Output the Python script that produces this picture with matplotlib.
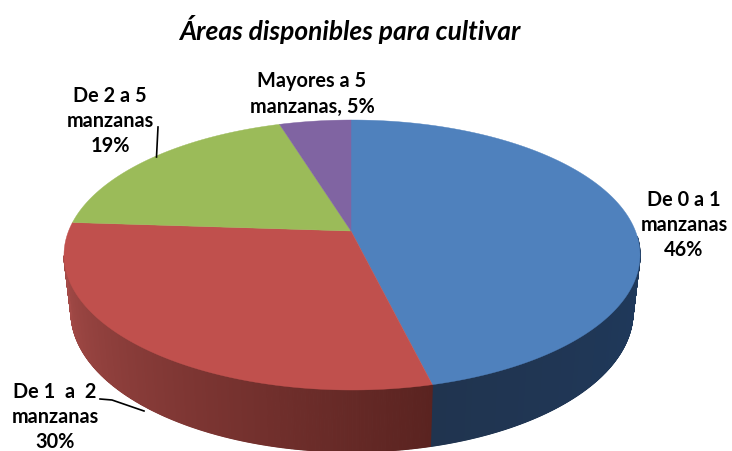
import numpy as np
import matplotlib
matplotlib.use('Agg')
import matplotlib.pyplot as plt

# data
categories=['De 0 a 1\nmanzanas\n46%','De 1  a  2\nmanzanas\n30%','De 2 a 5\nmanzanas\n19%','Mayores a 5\nmanzanas, 5%']
values=[46,30,19,5]
colors=['#4f81bd','#c0504d','#9bbb59','#8064a2']
title='Áreas disponibles para cultivar'

W,H=732,451
plt.rcParams['font.family']=['Lato','DejaVu Sans']

# pie geometry in pixels, the apex sits above the ellipse centre because of the perspective
cx,cy,a,b=352,255,288,135
bx,by,ba,bb=352,312,281,140
apex=(351,231)
squash=0.485

def rim(theta): #point on top ellipse hit by a ray from the apex, theta clockwise from top in radians
    dx=np.sin(theta)
    dy=-np.cos(theta)*squash
    px=apex[0]-cx
    py=apex[1]-cy
    A=(dx/a)**2+(dy/b)**2
    B=2*(px*dx/a**2+py*dy/b**2)
    C=(px/a)**2+(py/b)**2-1
    s=(-B+np.sqrt(B**2-4*A*C))/(2*A)
    return apex[0]+s*dx,apex[1]+s*dy

def side(theta): #top and bottom wall points for the same place on the rim
    x,y=rim(theta)
    t=np.arctan2((x-cx)/a,-(y-cy)/b)
    return x,y,bx+ba*np.sin(t),by-bb*np.cos(t)

def mix(c1,c2,f):
    return tuple(np.array(matplotlib.colors.to_rgb(c1))*(1-f)+np.array(matplotlib.colors.to_rgb(c2))*f)

fig=plt.figure(figsize=(W/100,H/100),dpi=100)
ax=fig.add_axes([0,0,1,1])
ax.set_xlim(0,W)
ax.set_ylim(H,0)
ax.axis('off')

edges=np.cumsum([0]+values)/sum(values)*2*np.pi

# side wall, narrow strips so the shading can change along the rim
# wall only shows between the two extreme points of the rim
wall=[('#1f3a5e','#20344f'),('#5a2320','#a54b48')]
wall_ends=[(np.radians(92.3),edges[1]),(edges[1],np.radians(260))]
for i in range(2):
    ts=np.linspace(wall_ends[i][0],wall_ends[i][1],400)
    for j in range(len(ts)-1):
        x1,y1,x2,y2=side(ts[j])
        x3,y3,x4,y4=side(ts[j+1])
        f=j/(len(ts)-2)
        ax.fill([x1,x3,x4,x2],[y1,y3,y4,y2],color=mix(wall[i][0],wall[i][1],f),lw=0.8,zorder=1)

# top of the pie
for i in range(len(values)):
    ts=np.linspace(edges[i],edges[i+1],200)
    pts=np.array([rim(t) for t in ts])
    ax.fill(np.r_[apex[0],pts[:,0]],np.r_[apex[1],pts[:,1]],color=colors[i],lw=0.3,zorder=2)

# labels
label_pos=[(684,225),(55,417),(110,121),(312,94)]
for text,(x,y) in zip(categories,label_pos):
    ax.text(x,y,text,ha='center',va='center',fontsize=14.3,fontweight='bold',color='black',linespacing=1.34,zorder=4)

# leader lines
ax.plot([100,112,144],[399,400,411],color='black',lw=1.2,zorder=3)
ax.plot([158,156.5],[127,157],color='black',lw=1.2,zorder=3)

ax.text(350,29,title,ha='center',va='center',fontsize=19,fontweight='bold',fontstyle='italic',color='black')

fig.savefig('out.png',dpi=100)
